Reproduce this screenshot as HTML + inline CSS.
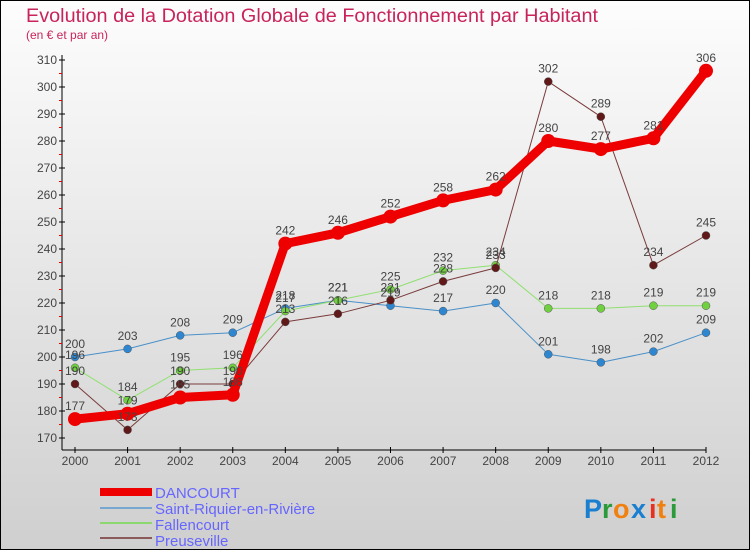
<!DOCTYPE html>
<html><head><meta charset="utf-8"><style>
html,body{margin:0;padding:0}
body{width:750px;height:550px;overflow:hidden;font-family:"Liberation Sans","DejaVu Sans",sans-serif}
</style></head><body>
<svg id="chart" width="750" height="550" xmlns="http://www.w3.org/2000/svg">
<defs><linearGradient id="bg" x1="0" y1="0" x2="0" y2="1"><stop offset="0" stop-color="#fdfdfd"/><stop offset="1" stop-color="#cfcfcf"/></linearGradient></defs>
<rect x="0.5" y="0.5" width="749" height="549" fill="url(#bg)" stroke="#000"/>
<text x="26" y="22" font-size="19" fill="#c8245a" textLength="572" lengthAdjust="spacingAndGlyphs">Evolution de la Dotation Globale de Fonctionnement par Habitant</text>
<text x="26" y="39" font-size="12" fill="#c8245a">(en € et par an)</text>
<g id="axes"></g><g id="series"></g><g id="labels"></g>
<g font-size="15" fill="#6666ff">
<rect x="100" y="488" width="52" height="8" fill="#ee0000"/>
<text x="155" y="498">DANCOURT</text>
<rect x="100" y="507" width="52" height="2" fill="#78a8d0"/>
<text x="155" y="514">Saint-Riquier-en-Rivière</text>
<rect x="100" y="522" width="52" height="2" fill="#8cd870"/>
<text x="155" y="530">Fallencourt</text>
<rect x="100" y="537" width="52" height="2" fill="#8a5a5a"/>
<text x="155" y="546">Preuseville</text>
</g>
<g font-size="27" font-weight="bold">
<text x="584" y="518" fill="#1a7fd0">P</text><text x="602" y="518" fill="#2a9a3a">r</text><text x="613" y="518" fill="#f08010">o</text><text x="631" y="518" fill="#1a7fd0">x</text><text x="649" y="518" fill="#e83020">i</text><text x="657" y="518" fill="#f08010">t</text><text x="670" y="518" fill="#2a9a3a">i</text>
</g>
</svg>
<script>
const years=[2000,2001,2002,2003,2004,2005,2006,2007,2008,2009,2010,2011,2012];
const dancourt=[177,179,185,186,242,246,252,258,262,280,277,281,306];
const saintRiquier=[200,203,208,209,218,221,219,217,220,201,198,202,209];
const fallencourt=[196,184,195,196,217,221,225,232,234,218,218,219,219];
const preuseville=[190,173,190,190,213,216,221,228,233,302,289,234,245];
const yTicks=[170,180,190,200,210,220,230,240,250,260,270,280,290,300,310];
const NS='http://www.w3.org/2000/svg';
function X(i){return 75+i*(706-75)/(years.length-1);}
function Y(v){return 438-(v-170)*(438-60)/140;}
function mk(tag,attrs,parent,txt){const e=document.createElementNS(NS,tag);for(const k in attrs)e.setAttribute(k,attrs[k]);if(txt!==undefined)e.textContent=txt;parent.appendChild(e);return e;}
const ax=document.getElementById('axes');
let e=mk('line',{x1:62,y1:55,x2:62,y2:450,stroke:'#000'},ax);


e=mk('line',{x1:62,y1:450,x2:706,y2:450,stroke:'#000'},ax);


yTicks.forEach((t,i)=>{
 mk('line',{x1:59,y1:Y(t),x2:65,y2:Y(t),stroke:'#000'},ax);
 if(i<yTicks.length-1)mk('line',{x1:59,y1:Y(t+5),x2:62,y2:Y(t+5),stroke:'#e00'},ax);
 const l=mk('text',{x:57,y:Y(t)+4,'text-anchor':'end','font-size':12,fill:'#444'},ax,t);
 
 
});
years.forEach((yr,i)=>{
 mk('line',{x1:X(i),y1:447,x2:X(i),y2:453,stroke:'#000'},ax);
 const l=mk('text',{x:X(i),y:465,'text-anchor':'middle','font-size':12,fill:'#444'},ax,yr);
 
 
});
const sg=document.getElementById('series'),lg=document.getElementById('labels');
function draw(vals,name,color,dot,w,r){
 const pts=vals.map((v,i)=>X(i)+','+Y(v)).join(' ');
 const p=mk('polyline',{points:pts,fill:'none',stroke:color,'stroke-width':w,'stroke-linejoin':'round'},sg);
 
 
 vals.forEach((v,i)=>{
  const c=mk('circle',{cx:X(i),cy:Y(v),r:r,fill:dot,stroke:w>3?'none':'#555','stroke-width':0.5},sg);
  
  
  const t=mk('text',{x:X(i),y:Y(v)-9,'text-anchor':'middle','font-size':12,fill:'#444'},lg,v);
  
  
 });
}
draw(saintRiquier,'saint-riquier','#4a90c8','#2f86d0',1,4);
draw(fallencourt,'fallencourt','#90e070','#70d040',1,4);
draw(preuseville,'preuseville','#7a3a3a','#601818',1,4);
draw(dancourt,'dancourt','#ee0000','#ee0000',9,7);
</script>
</body></html>
